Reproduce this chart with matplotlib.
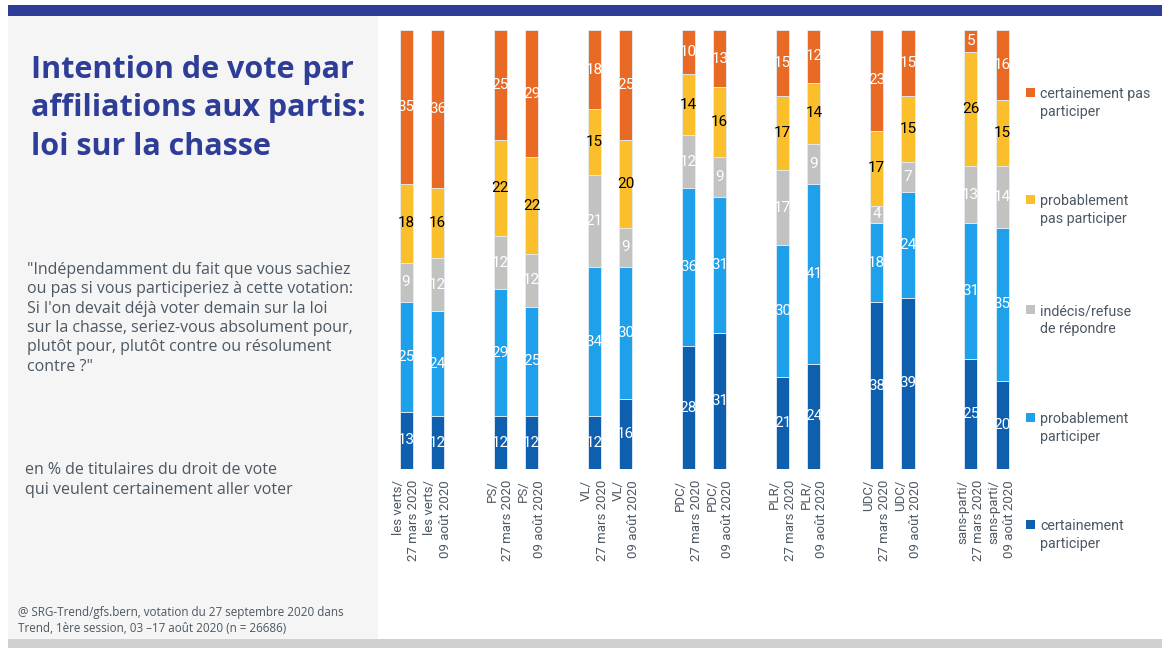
import matplotlib.pyplot as plt
from matplotlib.patches import Rectangle

# data (bottom -> top of each stacked bar)
parties = ['les verts', 'PS', 'VL', 'PDC', 'PLR', 'UDC', 'sans-parti']
dates = ['27 mars 2020', '09 août 2020']
legend_labels = ['certainement\nparticiper', 'probablement\nparticiper', 'indécis/refuse\nde répondre',
                 'probablement\npas participer', 'certainement pas\nparticiper']
colors = ['#0e5fad', '#1ea1ea', '#c2c2c1', '#fbbf2b', '#e96a24']
text_colors = ['white', 'white', 'white', 'black', 'white']

certainement_participer = [13, 12, 12, 12, 12, 16, 28, 31, 21, 24, 38, 39, 25, 20]
probablement_participer = [25, 24, 29, 25, 34, 30, 36, 31, 30, 41, 18, 24, 31, 35]
indecis = [9, 12, 12, 12, 21, 9, 12, 9, 17, 9, 4, 7, 13, 14]
probablement_pas = [18, 16, 22, 22, 15, 20, 14, 16, 17, 14, 17, 15, 26, 15]
certainement_pas = [35, 36, 25, 29, 18, 25, 10, 13, 15, 12, 23, 15, 5, 16]
series = [certainement_participer, probablement_participer, indecis, probablement_pas, certainement_pas]

W, H = 1162, 648
fig = plt.figure(figsize=(W / 100, H / 100), dpi=100)
fig.patch.set_facecolor('white')


def fx(x):
    return x / W


def fy(y):
    return 1 - y / H


def box(x0, y0, x1, y1, color):
    fig.add_artist(Rectangle((fx(x0), fy(y1)), fx(x1) - fx(x0), fy(y0) - fy(y1),
                             transform=fig.transFigure, color=color, lw=0, zorder=0))


box(8, 16, 378, 639, '#f5f5f5')   # left panel
box(8, 5, W, 16, '#2e3d98')       # top band
box(8, 639, W, H, '#d0d0d0')      # bottom band

grey_txt = '#4c5863'

fig.text(fx(31), fy(55), 'Intention de vote par\naffiliations aux partis:\nloi sur la chasse',
         fontsize=22, fontweight='bold', color='#2e3d98', family='Open Sans',
         va='top', ha='left', linespacing=1.36)

fig.text(fx(27), fy(262), '"Indépendamment du fait que vous sachiez\nou pas si vous participeriez à cette votation:\n'
         'Si l\'on devait déjà voter demain sur la loi\nsur la chasse, seriez-vous absolument pour,\n'
         'plutôt pour, plutôt contre ou résolument\ncontre ?"',
         fontsize=11.5, color=grey_txt, family='Open Sans', va='top', ha='left', linespacing=1.28)

fig.text(fx(25), fy(462), 'en % de titulaires du droit de vote\nqui veulent certainement aller voter',
         fontsize=11.5, color=grey_txt, family='Open Sans', va='top', ha='left', linespacing=1.35)

fig.text(fx(18), fy(606), '@ SRG-Trend/gfs.bern, votation du 27 septembre 2020 dans\n'
         'Trend, 1ère session, 03 \u201317 août 2020 (n = 26686)',
         fontsize=8.4, color=grey_txt, family='Open Sans', va='top', ha='left', linespacing=1.25)

# chart
ax = fig.add_axes([fx(380), fy(469), fx(1020) - fx(380), fy(30) - fy(469)])
ax.set_facecolor('white')
xpos = [3 * i + j for i in range(len(parties)) for j in range(2)]
labels = [f'{p}/\n{d}' for p in parties for d in dates]
bar_w = 0.415

bottom = [0] * len(xpos)
for k, vals in enumerate(series):
    bars = ax.bar(xpos, vals, bar_w, bottom=bottom, color=colors[k],
                  edgecolor='#e4ecf3', linewidth=0.6)
    for b, x, v, b0 in zip(bars, xpos, vals, bottom):
        t = ax.text(x, b0 + v / 2, str(v), ha='center', va='center', fontsize=11,
                    color=text_colors[k], family='Roboto')
        t.set_clip_path(b)
    bottom = [a + v for a, v in zip(bottom, vals)]

ax.set_xlim(-0.83, 19.57)
ax.set_ylim(0, 100)
ax.set_yticks([])
ax.set_xticks(xpos)
ax.set_xticklabels(labels, rotation=90, fontsize=9.5, color=grey_txt, family='Roboto',
                   multialignment='right', linespacing=1.25)
ax.tick_params(axis='x', length=0, pad=8)
for s in ax.spines.values():
    s.set_visible(False)

# legend (top -> bottom)
leg_y = [93, 200, 310, 418, 525]
for k, y in zip(range(4, -1, -1), leg_y):
    box(1026, y - 5, 1035, y + 4, colors[k])
    fig.text(fx(1040), fy(y - 6), legend_labels[k], fontsize=10.3, color=grey_txt, family='Roboto',
             va='top', ha='left', linespacing=1.35)

fig.savefig('out.png', dpi=100)
